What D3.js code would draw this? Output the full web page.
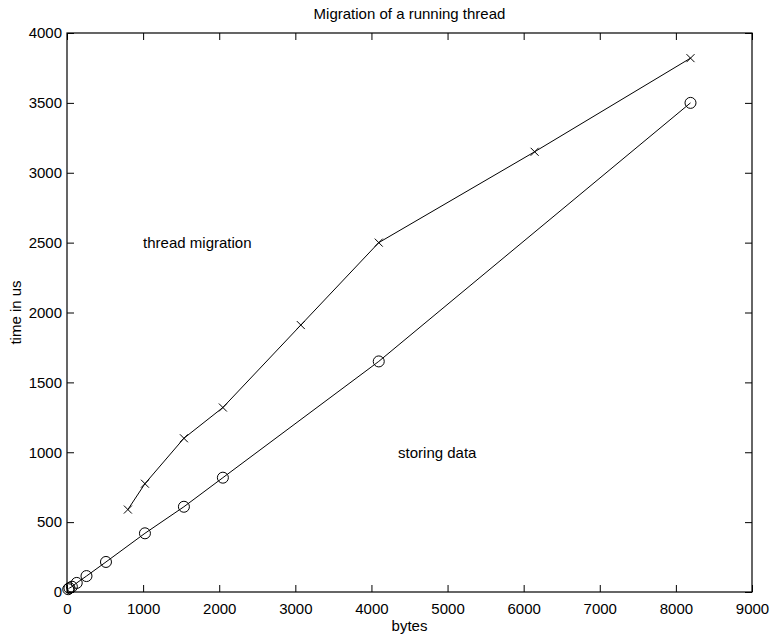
<!DOCTYPE html>
<html>
<head>
<meta charset="utf-8">
<script src="https://cdn.jsdelivr.net/npm/d3@7"></script>
<style>
  body { margin: 0; background: #fff; }
  svg { font-family: "Liberation Sans", Arial, sans-serif; }
</style>
</head>
<body>
<svg id="chart"></svg>
<script>
// storing data (circles)
const storeBytes = [16, 32, 64, 128, 256, 512, 1024, 1536, 2048, 4096, 8192];
const storeTime = [20, 28, 38, 65, 114, 215, 420, 610, 818, 1650, 3500];

// thread migration (crosses)
const migBytes = [800, 1024, 1536, 2048, 3072, 4096, 6144, 8192];
const migTime = [590, 775, 1100, 1320, 1910, 2500, 3150, 3820];

const xTicks = [0, 1000, 2000, 3000, 4000, 5000, 6000, 7000, 8000, 9000];
const yTicks = [0, 500, 1000, 1500, 2000, 2500, 3000, 3500, 4000];

const width = 770, height = 635;
const margin = {top: 33, right: 18, bottom: 43, left: 67};
const fs = "15px";

const svg = d3.select("#chart").attr("width", width).attr("height", height);

const x = d3.scaleLinear().domain([0, 9000]).range([margin.left, width - margin.right]);
const y = d3.scaleLinear().domain([0, 4000]).range([height - margin.bottom, margin.top]);

const store = storeBytes.map((b, i) => ({x: b, y: storeTime[i]}));
const mig = migBytes.map((b, i) => ({x: b, y: migTime[i]}));

const line = d3.line().x(d => x(d.x)).y(d => y(d.y));

// axes: ticks drawn inward on all four sides
function styleAxis(g) {
  g.select(".domain").remove();
  g.selectAll("line").attr("stroke", "#000");
  g.selectAll("text").attr("font-size", fs).attr("fill", "#000");
}

svg.append("g")
  .attr("transform", `translate(0,${y(0)})`)
  .call(d3.axisBottom(x).tickValues(xTicks).tickFormat(d3.format("d")).tickSizeInner(-7).tickSizeOuter(0).tickPadding(11))
  .call(styleAxis);

svg.append("g")
  .attr("transform", `translate(${x(0)},0)`)
  .call(d3.axisLeft(y).tickValues(yTicks).tickFormat(d3.format("d")).tickSizeInner(-7).tickSizeOuter(0).tickPadding(5))
  .call(styleAxis);

svg.append("g")
  .attr("transform", `translate(0,${y(4000)})`)
  .call(d3.axisTop(x).tickValues(xTicks).tickFormat("").tickSizeInner(-7).tickSizeOuter(0))
  .call(styleAxis);

svg.append("g")
  .attr("transform", `translate(${x(9000)},0)`)
  .call(d3.axisRight(y).tickValues(yTicks).tickFormat("").tickSizeInner(-7).tickSizeOuter(0))
  .call(styleAxis);

// box
svg.append("rect")
  .attr("x", x(0)).attr("y", y(4000))
  .attr("width", x(9000) - x(0)).attr("height", y(0) - y(4000))
  .attr("fill", "none").attr("stroke", "#000").attr("stroke-width", 1.2);

// lines
[store, mig].forEach(s => {
  svg.append("path").datum(s)
    .attr("d", line)
    .attr("fill", "none").attr("stroke", "#000").attr("stroke-width", 1);
});

// circle markers
svg.append("g").selectAll("circle").data(store).join("circle")
  .attr("cx", d => x(d.x)).attr("cy", d => y(d.y)).attr("r", 5.5)
  .attr("fill", "none").attr("stroke", "#000").attr("stroke-width", 1);

// cross markers
const s = 4;
svg.append("g").selectAll("path").data(mig).join("path")
  .attr("d", d => {
    const cx = x(d.x), cy = y(d.y);
    return `M${cx - s},${cy - s}L${cx + s},${cy + s}M${cx - s},${cy + s}L${cx + s},${cy - s}`;
  })
  .attr("stroke", "#000").attr("stroke-width", 1);

// annotations
svg.append("text").attr("x", x(1000)).attr("y", y(2500)).attr("dy", "0.35em")
  .attr("font-size", fs).text("thread migration");
svg.append("text").attr("x", x(4350)).attr("y", y(1000)).attr("dy", "0.35em")
  .attr("font-size", fs).text("storing data");

// title and labels
svg.append("text").attr("x", (x(0) + x(9000)) / 2).attr("y", 19)
  .attr("text-anchor", "middle").attr("font-size", fs).text("Migration of a running thread");
svg.append("text").attr("x", (x(0) + x(9000)) / 2).attr("y", 631)
  .attr("text-anchor", "middle").attr("font-size", fs).text("bytes");
svg.append("text")
  .attr("transform", `translate(21,${(y(0) + y(4000)) / 2}) rotate(-90)`)
  .attr("text-anchor", "middle").attr("font-size", fs).text("time in us");
</script>
</body>
</html>
